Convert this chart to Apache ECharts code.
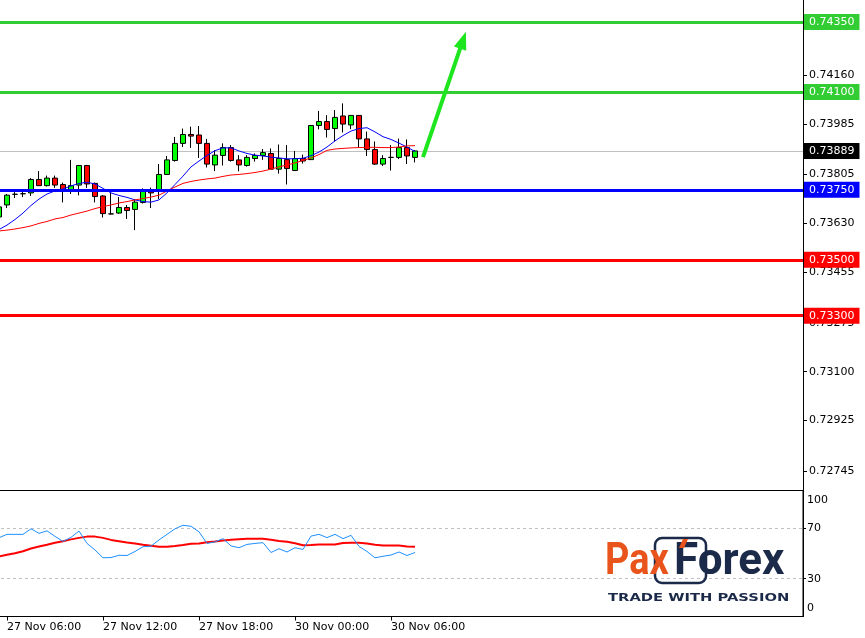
<!DOCTYPE html>
<html><head><meta charset="utf-8">
<script src="https://cdn.jsdelivr.net/npm/echarts@6/dist/echarts.min.js"></script>
<style>html,body{margin:0;padding:0;background:#fff}#c{width:865px;height:638px}</style>
</head><body><div id="c"></div>
<script>
const categories = [
'27 Nov 05:30','27 Nov 06:00','27 Nov 06:30','27 Nov 07:00','27 Nov 07:30','27 Nov 08:00','27 Nov 08:30','27 Nov 09:00','27 Nov 09:30','27 Nov 10:00',
'27 Nov 10:30','27 Nov 11:00','27 Nov 11:30','27 Nov 12:00','27 Nov 12:30','27 Nov 13:00','27 Nov 13:30','27 Nov 14:00','27 Nov 14:30','27 Nov 15:00',
'27 Nov 15:30','27 Nov 16:00','27 Nov 16:30','27 Nov 17:00','27 Nov 17:30','27 Nov 18:00','27 Nov 18:30','27 Nov 19:00','27 Nov 19:30','27 Nov 20:00',
'27 Nov 20:30','27 Nov 21:00','27 Nov 21:30','27 Nov 22:00','27 Nov 22:30','27 Nov 23:00','27 Nov 23:30',
'30 Nov 00:00','30 Nov 00:30','30 Nov 01:00','30 Nov 01:30','30 Nov 02:00','30 Nov 02:30','30 Nov 03:00','30 Nov 03:30','30 Nov 04:00','30 Nov 04:30',
'30 Nov 05:00','30 Nov 05:30','30 Nov 06:00','30 Nov 06:30','30 Nov 07:00','30 Nov 07:30'];

const opens  = [0.73653,0.73696,0.73734,0.73736,0.73739,0.73787,0.73765,0.73792,0.73769,0.73751,0.73767,0.73837,0.73773,0.73728,0.73664,0.73667,0.73687,0.73680,0.73705,0.73746,0.73744,0.73805,0.73855,0.73916,0.73948,0.73946,0.73916,0.73839,0.73873,0.73901,0.73857,0.73837,0.73862,0.73873,0.73880,0.73824,0.73858,0.73819,0.73862,0.73858,0.73980,0.73994,0.73969,0.74014,0.73982,0.74016,0.73932,0.73894,0.73842,0.73866,0.73866,0.73901,0.73866];
const closes = [0.73689,0.73731,0.73734,0.73736,0.73787,0.73765,0.73792,0.73767,0.73749,0.73765,0.73837,0.73771,0.73726,0.73665,0.73664,0.73687,0.73676,0.73706,0.73744,0.73739,0.73805,0.73857,0.73916,0.73948,0.73942,0.73916,0.73842,0.73874,0.73901,0.73855,0.73839,0.73866,0.73873,0.73883,0.73824,0.73862,0.73826,0.73862,0.73853,0.73980,0.73994,0.73966,0.74009,0.73985,0.74016,0.73932,0.73894,0.73842,0.73862,0.73866,0.73901,0.73871,0.73889];
const lows   = [0.73646,0.73685,0.73721,0.73724,0.73728,0.73764,0.73762,0.73757,0.73705,0.73735,0.73730,0.73757,0.73705,0.73651,0.73662,0.73664,0.73646,0.73606,0.73701,0.73685,0.73717,0.73803,0.73851,0.73903,0.73900,0.73864,0.73830,0.73817,0.73837,0.73851,0.73816,0.73833,0.73851,0.73857,0.73823,0.73808,0.73769,0.73817,0.73844,0.73857,0.73966,0.73937,0.73923,0.73955,0.73967,0.73901,0.73871,0.73839,0.73835,0.73819,0.73860,0.73842,0.73848];
const highs  = [0.73696,0.73735,0.73742,0.73744,0.73792,0.73817,0.73801,0.73801,0.73776,0.73857,0.73839,0.73839,0.73776,0.73731,0.73746,0.73724,0.73696,0.73717,0.73755,0.73758,0.73842,0.73871,0.73939,0.73969,0.73976,0.73978,0.73932,0.73892,0.73916,0.73910,0.73874,0.73874,0.73880,0.73896,0.73898,0.73912,0.73910,0.73889,0.73876,0.73982,0.74032,0.74017,0.74035,0.74059,0.74016,0.74017,0.73958,0.73923,0.73874,0.73910,0.73933,0.73930,0.73892];

const maFast = [0.73608,0.73624,0.73644,0.73667,0.73694,0.73717,0.73735,0.73746,0.73753,0.73764,0.73773,0.73777,0.73771,0.73755,0.73739,0.73730,0.73723,0.73714,0.73708,0.73706,0.73714,0.73739,0.73769,0.73799,0.73832,0.73853,0.73873,0.73890,0.73900,0.73900,0.73889,0.73880,0.73874,0.73871,0.73867,0.73864,0.73861,0.73861,0.73863,0.73872,0.73885,0.73903,0.73925,0.73944,0.73960,0.73969,0.73972,0.73957,0.73940,0.73930,0.73917,0.73903,0.73887];
const maSlow = [0.73603,0.73606,0.73610,0.73615,0.73621,0.73630,0.73637,0.73646,0.73651,0.73660,0.73667,0.73674,0.73683,0.73690,0.73696,0.73703,0.73708,0.73714,0.73719,0.73724,0.73731,0.73746,0.73760,0.73773,0.73780,0.73785,0.73789,0.73792,0.73798,0.73803,0.73805,0.73808,0.73812,0.73817,0.73824,0.73832,0.73839,0.73846,0.73855,0.73864,0.73876,0.73891,0.73896,0.73898,0.73900,0.73901,0.73902,0.73902,0.73901,0.73901,0.73903,0.73907,0.73908];

const oscMain   = [62.5,65.2,65.2,65.2,69.6,66,68,63.6,59.6,62.8,67.8,58,52.8,46.6,46.8,48.6,48.4,51.6,55.4,55.8,60.8,65.2,69.6,72.4,71.6,67.2,58,59.2,61.8,56,54.6,57.2,58,58.6,50.8,53.8,51.2,54.6,53.2,63.8,65.2,62.6,65.2,61.8,64.4,55.6,51.6,46.6,47.8,48.8,51.2,48.4,50.8];
const oscSignal = [47.6,49,50.2,51.8,54,55.6,56.9,58.5,59.8,61.2,62.4,63.4,63.4,62.4,60.8,59.8,58.8,58,56.9,56.2,55.4,55.4,56,56.8,57.8,58,59,59.6,60.4,60.9,61.4,61.7,61.7,61.7,60.9,60,59.3,58.2,56.6,56.8,57.2,57.2,57.2,58.4,58.6,58.6,58,56.9,56.4,56.4,56.4,55.6,55.4];

const priceTicks = [0.74160,0.73985,0.73805,0.73630,0.73455,0.73275,0.73100,0.72925,0.72745];
const oscTicks = [100,70,30,0];
const oscLevels = [70,30];
const timeLabels = ['27 Nov 06:00','27 Nov 12:00','27 Nov 18:00','30 Nov 00:00','30 Nov 06:00'];
const resistanceLevels = [0.74350,0.74100];
const pivotLevel = 0.73750;
const supportLevels = [0.73500,0.73300];
const lastPrice = 0.73889;
const arrowStart = [53, 0.73867];
const arrowEnd = [58, 0.74285];

const FONT = 'DejaVu Sans';
const padded = categories.concat(new Array(48).fill(''));
const candleData = opens.map((o,i)=>[o, closes[i], lows[i], highs[i]]);
const showTime = (i, name) => timeLabels.indexOf(name) >= 0;

function levelMark(v, lineColor, width, bg) {
  return {
    name: v.toFixed(5),
    yAxis: v,
    lineStyle: {color: lineColor, width: width, type: 'solid'},
    label: {show: true, position: 'end', distance: 1, formatter: v.toFixed(5),
      backgroundColor: bg, color: '#fff', padding: [2,5,2,5],
      fontFamily: FONT, fontSize: 11, lineHeight: 12}
  };
}

const chart = echarts.init(document.getElementById('c'), null, {renderer: 'canvas'});
chart.setOption({
  animation: false,
  backgroundColor: '#fff',
  grid: [
    {left: -5, top: 0, width: 808, height: 490.5, outerBoundsMode: 'none', containLabel: false},
    {left: -5, top: 490.5, width: 808, height: 126, outerBoundsMode: 'none', containLabel: false,
     show: true, borderColor: '#000', borderWidth: 1, backgroundColor: 'transparent'}
  ],
  xAxis: [
    {type: 'category', gridIndex: 0, data: padded, boundaryGap: true,
     axisLine: {show: false}, axisTick: {show: false}, axisLabel: {show: false}, splitLine: {show: false}},
    {type: 'category', gridIndex: 1, data: padded, boundaryGap: true,
     axisLine: {show: true, lineStyle: {color: '#000'}},
     axisTick: {show: true, alignWithLabel: true, interval: showTime, length: 4, lineStyle: {color: '#000'}},
     axisLabel: {show: true, interval: showTime, align: 'left', margin: 5, color: '#000', fontFamily: FONT, fontSize: 11},
     splitLine: {show: false}}
  ],
  yAxis: [
    {type: 'value', gridIndex: 0, position: 'right', min: 0.726752, max: 0.744286,
     axisLine: {show: true, lineStyle: {color: '#000'}},
     axisTick: {show: true, customValues: priceTicks, length: 4, lineStyle: {color: '#000'}},
     axisLabel: {show: true, customValues: priceTicks, formatter: v => v.toFixed(5), margin: 6,
       color: '#000', fontFamily: FONT, fontSize: 11},
     splitLine: {show: false}},
    {type: 'value', gridIndex: 1, position: 'right', min: 0, max: 100,
     axisLine: {show: true, lineStyle: {color: '#000'}},
     axisTick: {show: true, customValues: oscLevels, length: 3, lineStyle: {color: '#000'}},
     axisLabel: {show: true, customValues: oscTicks, margin: 4, color: '#000', fontFamily: FONT, fontSize: 11,
       formatter: v => v === 100 ? '{t|100}' : (v === 0 ? '{b|0}' : '{n|' + v + '}'),
       rich: {
         t: {padding: [20,0,0,0], fontFamily: FONT, fontSize: 11, color: '#000'},
         b: {padding: [0,0,16,0], fontFamily: FONT, fontSize: 11, color: '#000'},
         n: {fontFamily: FONT, fontSize: 11, color: '#000'}
       }},
     splitLine: {show: false}}
  ],
  series: [
    {type: 'candlestick', name: 'AUDUSD', xAxisIndex: 0, yAxisIndex: 0, data: candleData, z: 2,
     barWidth: 5, silent: true,
     itemStyle: {color: '#00ff00', color0: '#ff0000', borderColor: '#000', borderColor0: '#000',
       borderColorDoji: '#000', borderWidth: 1},
     markLine: {silent: true, z: 1, precision: 6, symbol: ['none','none'], animation: false,
       data: [levelMark(lastPrice, '#c0c0c0', 1, '#000')]}},
    {type: 'line', name: 'MA fast', xAxisIndex: 0, yAxisIndex: 0, data: maFast, z: 3, showSymbol: false,
     symbol: 'none', silent: true, lineStyle: {color: '#0000ff', width: 1},
     markLine: {silent: true, z: 6, precision: 6, symbol: ['none','triangle'], symbolSize: [13, 18], animation: false,
       label: {show: false},
       lineStyle: {color: '#1ee61e', width: 4, type: 'solid'},
       data: [[{coord: arrowStart}, {coord: arrowEnd}]]}},
    {type: 'line', name: 'MA slow', xAxisIndex: 0, yAxisIndex: 0, data: maSlow, z: 3, showSymbol: false,
     symbol: 'none', silent: true, lineStyle: {color: '#ff0000', width: 1},
     markLine: {silent: true, z: 5, precision: 6, symbol: ['none','none'], animation: false,
       data: resistanceLevels.map(v => levelMark(v, '#32cd32', 3, '#32cd32'))
         .concat([levelMark(pivotLevel, '#0000ff', 3, '#0000ff')])
         .concat(supportLevels.map(v => levelMark(v, '#ff0000', 3, '#ff0000')))}},
    {type: 'line', name: 'Oscillator', xAxisIndex: 1, yAxisIndex: 1, data: oscMain, z: 3, showSymbol: false,
     symbol: 'none', silent: true, lineStyle: {color: '#1e90ff', width: 1},
     markLine: {silent: true, z: 1, symbol: ['none','none'], animation: false, label: {show: false},
       lineStyle: {color: '#c0c0c0', width: 1, type: [3,3]},
       data: oscLevels.map(v => ({yAxis: v}))}},
    {type: 'line', name: 'Signal', xAxisIndex: 1, yAxisIndex: 1, data: oscSignal, z: 2, showSymbol: false,
     symbol: 'none', silent: true, lineStyle: {color: '#ff0000', width: 2}}
  ],
  graphic: [
    {type: 'rect', shape: {x: 655, y: 538, width: 51, height: 45, r: 7},
     style: {fill: 'none', stroke: '#1c2a4a', lineWidth: 2.5}, z: 100},
    {type: 'polygon', shape: {points: [[679,548],[683,539],[688,539],[684,548]]},
     style: {fill: '#e8541c'}, z: 102},
    {type: 'text', x: 605, y: 563, scaleX: 0.86,
     style: {text: 'Pax', font: 'bold 44px Roboto', fill: '#e8541c', verticalAlign: 'middle'}, z: 101},
    {type: 'text', x: 674, y: 563,
     style: {text: 'Forex', font: 'bold 44px Roboto', fill: '#1c2a4a', verticalAlign: 'middle'}, z: 101},
    {type: 'text', x: 608, y: 598, scaleX: 1.34,
     style: {text: 'TRADE WITH PASSION', font: 'bold 11px "DejaVu Sans"', fill: '#1c2a4a', verticalAlign: 'middle'}, z: 101}
  ]
});
</script>
</body></html>
